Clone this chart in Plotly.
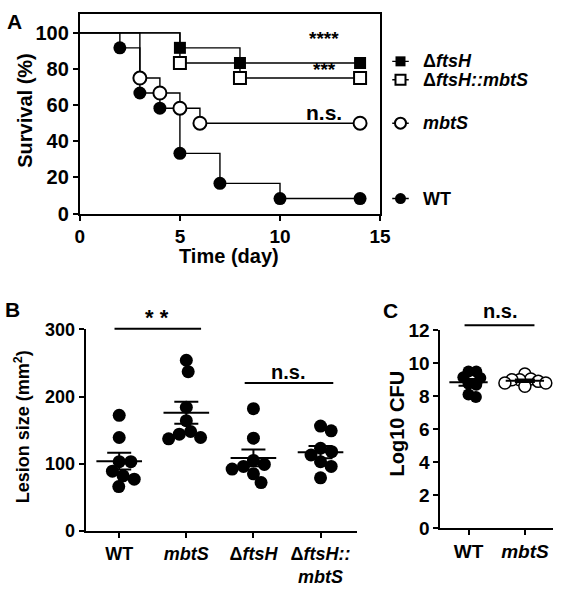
import math
import numpy as np
import plotly.graph_objects as go

W, H = 566, 595

# ---------------- Panel A data (Kaplan-Meier survival) ----------------
wt_days = [0, 2, 3, 4, 5, 7, 10, 14]
wt_surv = [100, 91.7, 66.7, 58.3, 33.3, 16.7, 8.3, 8.3]
mbts_days = [0, 3, 4, 5, 6, 14]
mbts_surv = [100, 75, 66.7, 58.3, 50, 50]
ftsh_days = [0, 5, 8, 14]
ftsh_surv = [100, 91.7, 83.3, 83.3]
comp_days = [0, 5, 8, 14]
comp_surv = [100, 83.3, 75, 75]
surv_labels = ["WT", "<i>mbtS</i>", "Δ<i>ftsH</i>", "Δ<i>ftsH::mbtS</i>"]
surv_sig = ["", "n.s.", "****", "***"]
surv_sig_y = [None, 56, 97, 79.5]

# ---------------- Panel B data (lesion size) ----------------
lesion_cats = ["WT", "<i>mbtS</i>", "Δ<i>ftsH</i>", "Δ<i>ftsH::</i><br><i>mbtS</i>"]
lesion_wt = [172, 139, 103, 103, 89, 82, 77, 66]
lesion_mbts = [254, 237, 184, 164, 148, 144, 139, 137]
lesion_ftsh = [182, 138, 105, 99, 96, 92, 85, 72]
lesion_comp = [156, 149, 123, 118, 113, 103, 96, 79]

# ---------------- Panel C data (log10 CFU) ----------------
cfu_cats = ["WT", "<i>mbtS</i>"]
cfu_wt = [9.5, 9.5, 9.15, 9.1, 8.75, 8.7, 8.1, 7.95]
cfu_mbts = [9.35, 9.05, 9.0, 9.0, 8.9, 8.8, 8.8, 8.6]

FONT = "Arial, Liberation Sans, sans-serif"


def px(x):
    return x / W


def py(y):
    return 1 - y / H


# domains
A_x = [px(77), px(386)]
A_y = [py(211), py(4)]
A_range_y = [0, 110.5]
L_x = [px(386), 1.0]
B_x = [px(83), px(362)]
B_y = [py(540), py(331)]
B_range_x = [-0.5, 3.54]
B_range_y = [0, 300]
C_x = [px(448), px(564)]
C_y = [py(537), py(332)]
C_range_x = [-0.5, 1.5]
C_range_y = [0, 12]


def swarm(vals, ppx, ppy, diam):
    order = sorted(range(len(vals)), key=lambda i: -vals[i])
    placed = []
    offs = [0.0] * len(vals)
    for i in order:
        y = vals[i] * ppy
        cands = [0.0]
        for (qx, qy) in placed:
            dy = abs(qy - y)
            if dy < diam:
                dx = math.sqrt(diam ** 2 - dy ** 2)
                cands += [qx + dx, qx - dx]
        cands.sort(key=lambda c: (round(abs(c), 6), -c))
        chosen = cands[-1]
        for c in cands:
            if all((c - qx) ** 2 + (y - qy) ** 2 >= diam ** 2 - 1e-6 for qx, qy in placed):
                chosen = c
                break
        placed.append((chosen, y))
        offs[i] = chosen / ppx
    return offs


fig = go.Figure()

# ---------- Panel A ----------
series = [
    (wt_days, wt_surv, dict(symbol="circle", color="black", size=13, line=dict(width=0))),
    (mbts_days, mbts_surv, dict(symbol="circle", color="white", size=13, line=dict(width=2, color="black"))),
    (ftsh_days, ftsh_surv, dict(symbol="square", color="black", size=12, line=dict(width=0))),
    (comp_days, comp_surv, dict(symbol="square", color="white", size=12, line=dict(width=2, color="black"))),
]
for d, s, mk in series:
    fig.add_trace(go.Scatter(x=d, y=s, mode="lines", line=dict(color="black", width=1.4, shape="hv"),
                             xaxis="x", yaxis="y", hoverinfo="skip"))
for d, s, mk in series:
    fig.add_trace(go.Scatter(x=d[1:], y=s[1:], mode="markers", marker=mk, xaxis="x", yaxis="y", cliponaxis=False))

# legend entries aligned with curve end points, pushed apart if too close
A_ppy = (A_y[1] - A_y[0]) * H / (A_range_y[1] - A_range_y[0])
min_gap = 19 / A_ppy
ends = [s[-1] for _, s, _ in series]
order = sorted(range(len(ends)), key=lambda i: ends[i])
leg_y = list(ends)
for a, b in zip(order[:-1], order[1:]):
    if leg_y[b] - leg_y[a] < min_gap:
        mid = (leg_y[a] + leg_y[b]) / 2
        leg_y[a] = mid - min_gap / 2
        leg_y[b] = mid + min_gap / 2

annotations = []
for (d, s, mk), lab, yv in zip(series, surv_labels, leg_y):
    fig.add_trace(go.Scatter(x=[12.5, 29.5], y=[yv, yv], mode="lines", line=dict(color="black", width=1.4),
                             xaxis="x2", yaxis="y", hoverinfo="skip"))
    mk2 = dict(mk)
    mk2["size"] = mk["size"] - 2
    fig.add_trace(go.Scatter(x=[21], y=[yv], mode="markers", marker=mk2, xaxis="x2", yaxis="y", cliponaxis=False))
    annotations.append(dict(x=42, y=yv, xref="x2", yref="y", text="<b>" + lab + "</b>", showarrow=False,
                            xanchor="left", yanchor="middle", font=dict(size=18, family=FONT, color="black")))

for lab, yv in zip(surv_sig, surv_sig_y):
    if lab:
        annotations.append(dict(x=12.2, y=yv, xref="x", yref="y", text="<b>" + lab + "</b>", showarrow=False,
                                xanchor="center", yanchor="middle",
                                font=dict(size=21 if lab == "n.s." else 19, family=FONT, color="black")))


# ---------- Panels B and C ----------
def add_dot_panel(groups, xa, ya, dom_x, dom_y, rx, ry, markers, diam, half_mean, cap_px):
    ppx = (dom_x[1] - dom_x[0]) * W / (rx[1] - rx[0])
    ppy = (dom_y[1] - dom_y[0]) * H / (ry[1] - ry[0])
    for i, (vals, mk) in enumerate(zip(groups, markers)):
        offs = swarm(vals, ppx, ppy, diam)
        fig.add_trace(go.Scatter(x=[i + o for o in offs], y=vals, mode="markers", marker=mk,
                                 xaxis=xa, yaxis=ya, cliponaxis=False))
    for i, vals in enumerate(groups):
        m = float(np.mean(vals))
        sem = float(np.std(vals, ddof=1) / math.sqrt(len(vals)))
        fig.add_trace(go.Scatter(x=[i - half_mean, i + half_mean], y=[m, m], mode="lines",
                                 line=dict(color="black", width=2), xaxis=xa, yaxis=ya, hoverinfo="skip"))
        fig.add_trace(go.Scatter(x=[i], y=[m], mode="markers", marker=dict(size=1, color="rgba(0,0,0,0)"),
                                 error_y=dict(type="data", array=[sem], visible=True, color="black",
                                              thickness=2, width=cap_px),
                                 xaxis=xa, yaxis=ya, hoverinfo="skip"))


filled = dict(symbol="circle", color="black", size=13, line=dict(width=0))
opened = dict(symbol="circle", color="white", size=13, line=dict(width=1.5, color="black"))

add_dot_panel([lesion_wt, lesion_mbts, lesion_ftsh, lesion_comp], "x3", "y3", B_x, B_y, B_range_x, B_range_y,
              [filled] * 4, 12, 0.34, 12)
add_dot_panel([cfu_wt, cfu_mbts], "x4", "y4", C_x, C_y, C_range_x, C_range_y,
              [dict(filled, size=12), dict(opened, size=12)], 8, 0.34, 10)


def yB(v):
    return B_y[0] + (v - B_range_y[0]) / (B_range_y[1] - B_range_y[0]) * (B_y[1] - B_y[0])


def yC(v):
    return C_y[0] + (v - C_range_y[0]) / (C_range_y[1] - C_range_y[0]) * (C_y[1] - C_y[0])


shapes = [
    dict(type="line", xref="x3", yref="paper", x0=-0.07, x1=1.22, y0=yB(301), y1=yB(301),
         line=dict(color="black", width=2)),
    dict(type="line", xref="x3", yref="paper", x0=1.87, x1=3.19, y0=yB(220), y1=yB(220),
         line=dict(color="black", width=2)),
    dict(type="line", xref="x4", yref="paper", x0=-0.07, x1=1.17, y0=yC(12.3), y1=yC(12.3),
         line=dict(color="black", width=2)),
]
annotations += [
    dict(x=0.57, y=yB(318), xref="x3", yref="paper", text="<b>* *</b>", showarrow=False,
         font=dict(size=22, family=FONT, color="black")),
    dict(x=2.52, y=yB(237), xref="x3", yref="paper", text="<b>n.s.</b>", showarrow=False,
         font=dict(size=20, family=FONT, color="black")),
    dict(x=0.55, y=yC(13.2), xref="x4", yref="paper", text="<b>n.s.</b>", showarrow=False,
         font=dict(size=20, family=FONT, color="black")),
]


def txt(x, y, t, size, angle=0, anchor="center"):
    return dict(x=px(x), y=py(y), xref="paper", yref="paper", text="<b>" + t + "</b>", showarrow=False,
                textangle=angle, xanchor=anchor, yanchor="middle",
                font=dict(size=size, family=FONT, color="black"))


annotations += [
    txt(10, 12, "A", 21),
    txt(8, 310, "B", 21),
    txt(397, 311, "C", 21),
    txt(21, 104, "Survival (%)", 20, -90),
    txt(231, 255, "Time (day)", 20),
    txt(18, 432, "Lesion size (mm<sup>2</sup>)", 18, -90),
    txt(403, 429, "Log10 CFU", 20, -90),
]

axis_common = dict(showline=True, linecolor="black", linewidth=2, ticks="outside", ticklen=5, tickwidth=2,
                   tickcolor="black", showgrid=False, zeroline=False)

fig.update_layout(
    width=W, height=H, margin=dict(l=0, r=0, t=0, b=0),
    paper_bgcolor="white", plot_bgcolor="white", showlegend=False,
    xaxis=dict(axis_common, domain=A_x, range=[0, 15], tickvals=[0, 5, 10, 15], mirror=True, anchor="y",
               tickfont=dict(family=FONT, color="black", size=19, weight="bold")),
    yaxis=dict(axis_common, domain=A_y, range=A_range_y, tickvals=[0, 20, 40, 60, 80, 100], mirror=True,
               anchor="x", tickfont=dict(family=FONT, color="black", size=20, weight="bold")),
    xaxis2=dict(domain=L_x, range=[0, 180], visible=False, anchor="y"),
    xaxis3=dict(axis_common, domain=B_x, range=B_range_x, tickvals=[0, 1, 2, 3], ticktext=lesion_cats,
                anchor="y3", tickfont=dict(family=FONT, color="black", size=18, weight="bold")),
    yaxis3=dict(axis_common, domain=B_y, range=B_range_y, tickvals=[0, 100, 200, 300], anchor="x3",
                tickfont=dict(family=FONT, color="black", size=18, weight="bold")),
    xaxis4=dict(axis_common, domain=C_x, range=C_range_x, tickvals=[0, 1], ticktext=cfu_cats, anchor="y4",
                tickfont=dict(family=FONT, color="black", size=19, weight="bold")),
    yaxis4=dict(axis_common, domain=C_y, range=C_range_y, tickvals=[0, 2, 4, 6, 8, 10, 12], anchor="x4",
                tickfont=dict(family=FONT, color="black", size=19, weight="bold")),
    annotations=annotations,
    shapes=shapes,
)

fig.write_html("out.html", config={"displayModeBar": False},
               post_script="document.body.style.margin='0';")
